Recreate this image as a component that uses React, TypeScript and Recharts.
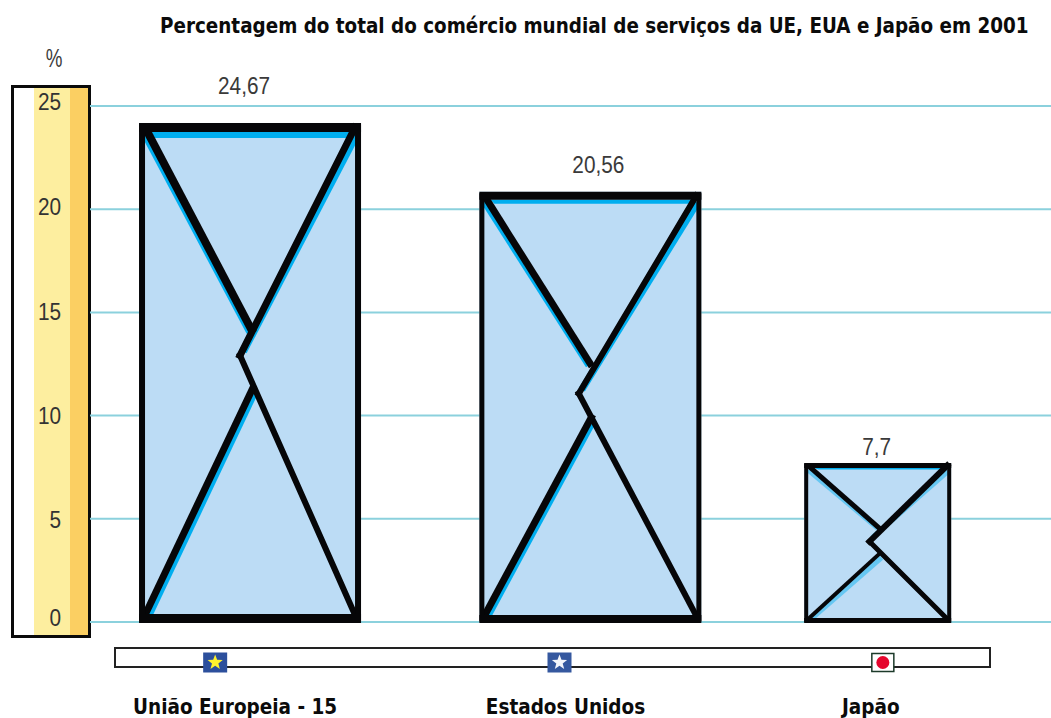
import React from 'react';
import { BarChart, Bar, XAxis, YAxis, CartesianGrid, LabelList } from 'recharts';

const categories = ['União Europeia - 15', 'Estados Unidos', 'Japão'];
// the artwork's bars do not reach the height their printed figures imply,
// so heights are read off the drawing and the printed figures kept apart
const drawnHeights = [24.13, 20.8, 7.65];
const printedLabels = ['24,67', '20,56', '7,7'];
const yTicks = [0, 5, 10, 15, 20, 25];

const data = categories.map((name, i) => ({
  name,
  height: drawnHeights[i],
  label: printedLabels[i],
}));

const LABEL_FONT = '"Liberation Sans", Arial, sans-serif';
const TITLE_FONT = '"DejaVu Sans", sans-serif';

// hand drawn look of each bar, relative to its band
const barLooks = [
  { shift: 0, width: 222, top: 9, side: 6, bottom: 9, xs: [8, 7, 6, 7], cyan: 6, tip: [0.514, 0.42], notch: [0.455, 0.465], low: [0.518, 0.525] },
  { shift: 20, width: 222, top: 8, side: 5, bottom: 8, xs: [7, 6, 6, 7], cyan: 4, tip: [0.507, 0.405], notch: [0.448, 0.468], low: [0.511, 0.517] },
  { shift: -13, width: 147, top: 5, side: 4, bottom: 5, xs: [5, 6, 5, 4], cyan: 1.5, tip: [0.52, 0.414], notch: [0.444, 0.49], low: [0.52, 0.56] },
];
const valueLabelLooks = [
  { dx: -6, dy: -38 },
  { dx: 8, dy: -28 },
  { dx: -1, dy: -17 },
];
const categoryLooks = [
  { label: -15, flag: -35 },
  { label: -5, flag: -11 },
  { label: -20, flag: -8 },
];
const tickNudge: Record<number, number> = { 0: -4, 5: 1, 10: 0, 15: 0, 20: -2, 25: -4 };

const XBar = (props: any) => {
  const { x, y, width, height, index } = props;
  const look = barLooks[index];
  const cx = x + width / 2 + look.shift;
  const x0 = cx - look.width / 2;
  const x1 = cx + look.width / 2;
  const y0 = y - 1;
  const y1 = y + height + 1;
  const w = x1 - x0;
  const h = y1 - y0;
  const at = (p: number[]) => [x0 + p[0] * w, y0 + p[1] * h];
  const [tx, ty] = at(look.tip);
  const [nx, ny] = at(look.notch);
  const [lx, ly] = at(look.low);
  const inL = x0 + look.side;
  const inR = x1 - look.side;
  const inT = y0 + look.top;
  const inB = y1 - look.bottom;
  return (
    <g>
      <rect x={x0} y={y0} width={w} height={h} fill="#bcdcf5" />
      <polygon
        points={`${inL + 6},${inT} ${inR - 2},${inT} ${inR - 6},${inT + look.cyan} ${inL + 10},${inT + look.cyan}`}
        fill="#00aeef"
      />
      <g stroke="#00aeef" strokeWidth={look.xs[0]} opacity={look.cyan > 2 ? 1 : 0.45}>
        <line x1={inL} y1={inT + 2} x2={tx - 3} y2={ty - 1} />
        <line x1={inR + 1} y1={inT + 3} x2={nx + 3} y2={ny - 4} />
        <line x1={inL + 4} y1={inB} x2={lx + 1} y2={ly + 5} />
      </g>
      <g stroke="#060608" fill="none">
        <line x1={inL} y1={y0 + look.top / 2} x2={tx} y2={ty} strokeWidth={look.xs[0]} />
        <line x1={inR} y1={y0 + look.top / 2} x2={nx} y2={ny} strokeWidth={look.xs[1]} strokeLinecap="square" />
        <line x1={nx} y1={ny} x2={inR} y2={inB + 1} strokeWidth={look.xs[2]} strokeLinecap="square" />
        <line x1={inL} y1={inB + 1} x2={lx} y2={ly} strokeWidth={look.xs[3]} />
        <rect
          x={x0 + look.side / 2}
          y={y0 + look.top / 2}
          width={w - look.side}
          height={h - (look.top + look.bottom) / 2}
          strokeWidth={look.side}
        />
        <line x1={x0} y1={y0 + look.top / 2} x2={x1} y2={y0 + look.top / 2} strokeWidth={look.top} />
        <line x1={x0} y1={y1 - look.bottom / 2} x2={x1} y2={y1 - look.bottom / 2} strokeWidth={look.bottom} />
      </g>
    </g>
  );
};

const ValueLabel = (props: any) => {
  const { x, y, width, value, index } = props;
  const look = barLooks[index];
  const off = valueLabelLooks[index];
  return (
    <text
      transform={`translate(${x + width / 2 + look.shift + off.dx} ${y + off.dy}) scale(0.885 1)`}
      textAnchor="middle"
      dominantBaseline="central"
      fontFamily={LABEL_FONT}
      fontSize={23.5}
      fill="#3a3a3a"
    >
      {value}
    </text>
  );
};

const Flag = ({ index, cx, cy }: { index: number; cx: number; cy: number }) => {
  const star = (r: number) => {
    const pts: string[] = [];
    for (let i = 0; i < 10; i++) {
      const a = -Math.PI / 2 + (i * Math.PI) / 5;
      const rad = i % 2 ? r * 0.42 : r;
      pts.push(`${cx + rad * Math.cos(a)},${cy + rad * Math.sin(a)}`);
    }
    return pts.join(' ');
  };
  if (index === 2) {
    return (
      <g>
        <rect x={cx - 11} y={cy - 9} width={22} height={18} fill="#fff" stroke="#1c3a2a" strokeWidth={1.5} />
        <circle cx={cx} cy={cy} r={6.5} fill="#e5062d" />
      </g>
    );
  }
  return (
    <g>
      <rect x={cx - 12} y={cy - 10} width={24} height={20} fill={index === 0 ? '#2c4f9c' : '#35589f'} />
      <polygon points={star(8)} fill={index === 0 ? '#fff22d' : '#f4f6fb'} />
    </g>
  );
};

const CategoryTick = (props: any) => {
  const { x, y, payload, index } = props;
  const look = categoryLooks[index];
  return (
    <g>
      <Flag index={index} cx={x + look.flag} cy={y + 34.5} />
      <text
        x={x + look.label}
        y={y + 79}
        textAnchor="middle"
        dominantBaseline="central"
        fontFamily={TITLE_FONT}
        fontWeight={700}
        fontSize={20.5}
        style={{ fontStretch: 'condensed' }}
        fill="#0b0b0b"
      >
        {payload.value}
      </text>
    </g>
  );
};

const ValueTick = (props: any) => {
  const { x, y, payload } = props;
  return (
    <text
      transform={`translate(${x} ${y + tickNudge[payload.value]}) scale(0.885 1)`}
      textAnchor="end"
      dominantBaseline="central"
      fontFamily={LABEL_FONT}
      fontSize={23.5}
      fill="#333"
    >
      {payload.value}
    </text>
  );
};

const box = (style: React.CSSProperties): React.CSSProperties => ({
  position: 'absolute',
  boxSizing: 'border-box',
  ...style,
});

export default function App() {
  return (
    <div style={box({ left: 0, top: 0, width: 1051, height: 718, background: '#fff', overflow: 'hidden' })}>
      <div style={box({ left: 11, top: 85, width: 80, height: 553, border: '3px solid #0a0a0a', background: '#fff' })}>
        <div style={box({ left: 20, top: 0, width: 36, height: 547, background: '#fdee9f' })} />
        <div style={box({ left: 56, top: 0, width: 18, height: 547, background: '#fbcf62' })} />
      </div>
      <div style={box({ left: 114, top: 647, width: 877, height: 21, border: '2px solid #222', background: '#fff' })} />
      <div
        style={box({
          left: 43,
          top: 44,
          fontFamily: LABEL_FONT,
          fontSize: 25,
          color: '#3a3a3a',
          lineHeight: '28px',
          transform: 'scaleX(0.75)',
        })}
      >
        %
      </div>
      <div
        style={box({
          left: 160,
          top: 12,
          width: 880,
          fontFamily: TITLE_FONT,
          fontWeight: 700,
          fontSize: 20.42,
          fontStretch: 'condensed',
          lineHeight: '28px',
          whiteSpace: 'nowrap',
          color: '#0b0b0b',
        })}
      >
        Percentagem do total do comércio mundial de serviços da UE, EUA e Japão em 2001
      </div>
      <div style={box({ left: 0, top: 0 })}>
        <BarChart
          width={1051}
          height={718}
          data={data}
          margin={{ top: 106, right: 0, bottom: 0, left: 0 }}
          style={{ background: 'transparent' }}
        >
          <CartesianGrid vertical={false} stroke="#8bd1dd" strokeWidth={2} />
          <XAxis
            dataKey="name"
            height={96}
            axisLine={false}
            tickLine={false}
            tickMargin={0}
            interval={0}
            tick={<CategoryTick />}
          />
          <YAxis
            width={90}
            domain={[0, 25]}
            ticks={yTicks}
            axisLine={false}
            tickLine={false}
            tickMargin={23}
            tick={<ValueTick />}
          />
          <Bar dataKey="height" shape={<XBar />} isAnimationActive={false}>
            <LabelList dataKey="label" content={<ValueLabel />} />
          </Bar>
        </BarChart>
      </div>
    </div>
  );
}
